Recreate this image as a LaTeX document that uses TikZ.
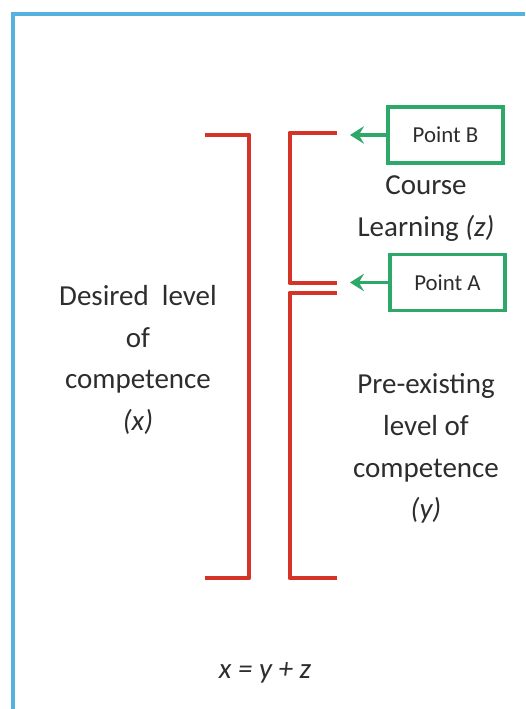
\documentclass[tikz,border=0pt]{standalone}
\usepackage{fontspec}
\setmainfont{Carlito}
\usetikzlibrary{arrows.meta}
\definecolor{framblue}{RGB}{85,178,222}
\definecolor{brackred}{RGB}{212,52,40}
\definecolor{pointgreen}{RGB}{46,168,104}
\definecolor{textgray}{RGB}{45,45,45}
\tikzset{
	bracket/.style={brackred, line width=2.8pt, line join=round},
	pointbox/.style={draw=pointgreen, line width=2pt, minimum width=2.3cm, minimum height=1.12cm, text=textgray, font=\fontsize{13}{15}\selectfont},
	pointer/.style={pointgreen, line width=1.8pt, -{Stealth[length=8pt,width=10pt,inset=3pt]}},
	label/.style={align=center, text=textgray, font=\fontsize{16.5}{23.8}\selectfont}
}
\begin{document}
\begin{tikzpicture}
		\useasboundingbox (0,0) rectangle (10.5,14.18);
		%Frame
		\draw[framblue, line width=2.3pt] (0.26,0)--(0.26,13.9)--(10.5,13.9);
		%Brackets
		\draw[bracket] (4.1,11.48)--(4.98,11.48)--(4.98,2.62)--(4.1,2.62);
		\draw[bracket] (6.74,11.52)--(5.8,11.52)--(5.8,8.52)--(6.74,8.52);
		\draw[bracket] (6.74,8.32)--(5.8,8.32)--(5.8,2.62)--(6.74,2.62);
		%Points
		\node[pointbox] (pointB) at (8.91,11.48) {Point B};
		\node[pointbox] (pointA) at (8.95,8.53) {Point A};
		\coordinate (tipB) at (7.0,11.48);
		\coordinate (tipA) at (7.0,8.53);
		\draw[pointer] (pointB.west)--(tipB);
		\draw[pointer] (pointA.west)--(tipA);
		%Labels
		\node[label] (course) at (8.52,10.0) {Course\\Learning \textit{(z)}};
		\node[label] (desired) at (2.76,6.98) {Desired \ level\\of\\competence\\\textit{(x)}};
		\node[label] (preexist) at (8.52,5.21) {Pre-existing\\level of\\competence\\\textit{(y)}};
		\node[label] (sum) at (5.3,0.72) {\textit{x = y + z}};
\end{tikzpicture}
\end{document}
